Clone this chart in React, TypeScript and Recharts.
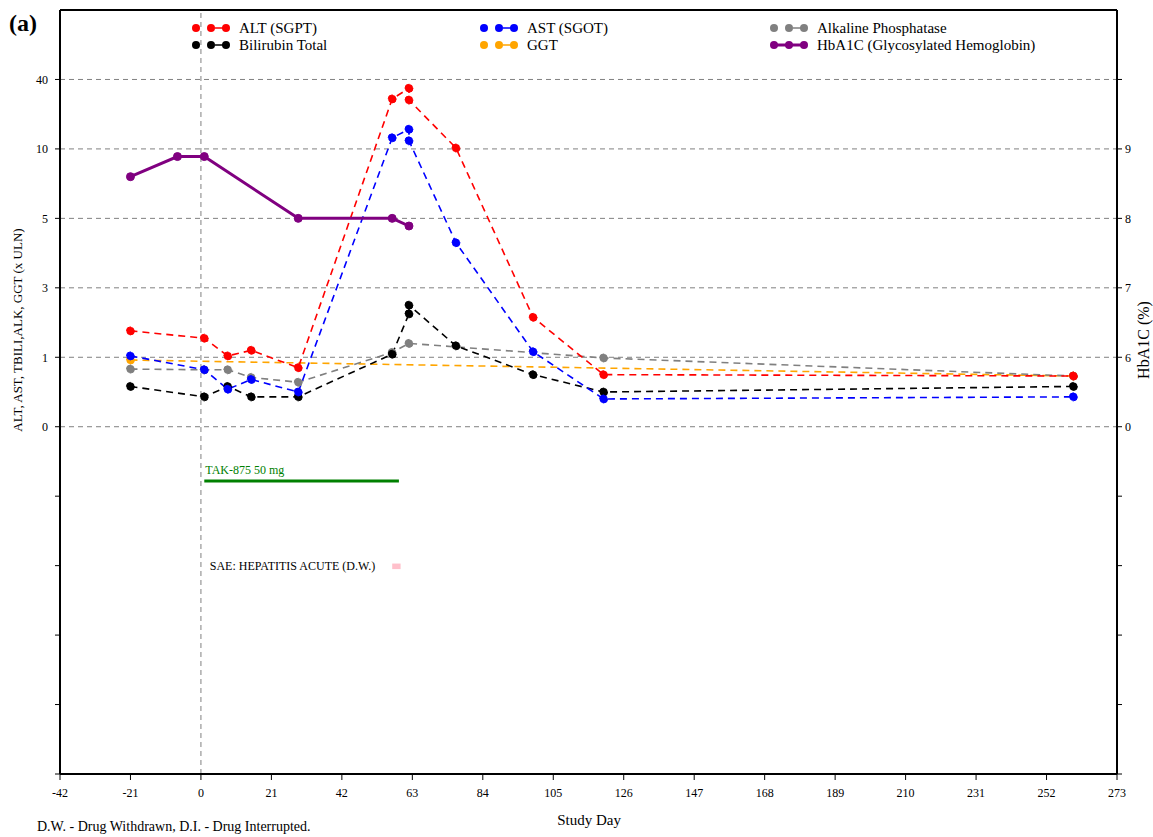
import React from 'react';
import { LineChart, Line, XAxis, YAxis, ReferenceLine, ReferenceArea } from 'recharts';

const FONT = '"Liberation Serif", "Times New Roman", serif';

// ---- axis tick labels ----
const xTicks = [-42, -21, 0, 21, 42, 63, 84, 105, 126, 147, 168, 189, 210, 231, 252, 273];
const leftTickLabels = ['0', '1', '3', '5', '10', '40'];
const leftBreaks = [0, 1, 3, 5, 10, 40];
const rightTickLabels = ['0', '6', '7', '8', '9'];
const rightBreaks = [0, 6, 7, 8, 9];
const yTicks = [-5, -4, -3, -2, -1, 0, 1, 2, 3, 4, 5];

// ---- series (x ULN) ----
const altDays = [-21, 1, 8, 15, 29, 57, 62, 62, 76, 99, 120, 260];
const altVals = [1.76, 1.55, 1.04, 1.2, 0.85, 31.6, 36.2, 31.1, 10.4, 2.15, 0.75, 0.73];

const astDays = [-21, 1, 8, 15, 29, 57, 62, 62, 76, 99, 120, 260];
const astVals = [1.04, 0.82, 0.54, 0.68, 0.5, 14.8, 18.5, 13.5, 4.3, 1.16, 0.4, 0.43];

const alkDays = [-21, 1, 8, 15, 29, 57, 62, 120, 260];
const alkVals = [0.83, 0.82, 0.82, 0.71, 0.64, 1.14, 1.4, 0.99, 0.73];

const tbiliDays = [-21, 1, 8, 15, 29, 57, 62, 62, 76, 99, 120, 260];
const tbiliVals = [0.58, 0.43, 0.58, 0.43, 0.43, 1.09, 2.25, 2.5, 1.33, 0.75, 0.5, 0.58];

const ggtDays = [-21, 260];
const ggtVals = [0.96, 0.73];

// ---- HbA1c (%) ----
const hbaDays = [-21, -7, 1, 29, 57, 62];
const hbaVals = [8.6, 8.89, 8.89, 8.0, 8.0, 7.89];

// ---- annotations ----
const drugName = 'TAK-875 50 mg';
const drugStart = 1;
const drugEnd = 59;
const saeText = 'SAE: HEPATITIS ACUTE (D.W.)';
const saeStart = 57;
const saeEnd = 59.5;

// piecewise axis mapping (the chart's axis is a broken, non-linear scale)
function toPos(v: number, breaks: number[]) {
  for (let i = 0; i < breaks.length - 1; i++) {
    if (v <= breaks[i + 1]) return i + (v - breaks[i]) / (breaks[i + 1] - breaks[i]);
  }
  return breaks.length - 1;
}

const build = (days: number[], vals: number[], breaks: number[]) =>
  days.map((d, i) => ({ day: d, v: toPos(vals[i], breaks) }));

const series = [
  { key: 'alt', name: 'ALT (SGPT)', color: '#ff0000', dashed: true, data: build(altDays, altVals, leftBreaks), axis: 'L' },
  { key: 'ast', name: 'AST (SGOT)', color: '#0000ff', dashed: true, data: build(astDays, astVals, leftBreaks), axis: 'L' },
  { key: 'alk', name: 'Alkaline Phosphatase', color: '#808080', dashed: true, data: build(alkDays, alkVals, leftBreaks), axis: 'L' },
  { key: 'tbili', name: 'Bilirubin Total', color: '#000000', dashed: true, data: build(tbiliDays, tbiliVals, leftBreaks), axis: 'L' },
  { key: 'ggt', name: 'GGT', color: '#ffa500', dashed: true, data: build(ggtDays, ggtVals, leftBreaks), axis: 'L' },
  { key: 'hba', name: 'HbA1C (Glycosylated Hemoglobin)', color: '#800080', dashed: false, data: build(hbaDays, hbaVals, rightBreaks), axis: 'R' },
];

const drawOrder = ['ggt', 'alk', 'tbili', 'ast', 'alt', 'hba'];

const legendLayout: Record<string, { x: number; y: number }> = {
  alt: { x: 196, y: 28 },
  ast: { x: 484, y: 28 },
  alk: { x: 774, y: 28 },
  tbili: { x: 196, y: 45 },
  ggt: { x: 484, y: 45 },
  hba: { x: 774, y: 45 },
};

const W = 1153;
const H = 837;

export default function App() {
  return (
    <div style={{ position: 'absolute', left: 0, top: 0, width: W, height: H, background: '#fff' }}>
      <LineChart width={W} height={H} margin={{ top: 10, right: 6, bottom: 33, left: 20 }}>
        <XAxis
          dataKey="day"
          type="number"
          domain={[-42, 273]}
          ticks={xTicks}
          interval={0}
          allowDuplicatedCategory={false}
          height={30}
          tickSize={6}
          tickMargin={8}
          axisLine={{ stroke: '#000', strokeWidth: 2 }}
          tickLine={{ stroke: '#000' }}
          tick={{ fill: '#000', fontSize: 12, fontFamily: FONT }}
        />
        <YAxis
          yAxisId="L"
          type="number"
          domain={[-5, 6]}
          ticks={yTicks}
          interval={0}
          allowDataOverflow
          width={40}
          tickSize={5}
          tickMargin={7}
          axisLine={{ stroke: '#000', strokeWidth: 2 }}
          tickLine={{ stroke: '#000' }}
          tick={{ fill: '#000', fontSize: 12, fontFamily: FONT }}
          tickFormatter={(v: number) => (v >= 0 ? leftTickLabels[v] ?? '' : '')}
        />
        <YAxis
          yAxisId="R"
          orientation="right"
          type="number"
          domain={[-5, 6]}
          ticks={yTicks}
          interval={0}
          allowDataOverflow
          width={30}
          tickSize={5}
          tickMargin={3}
          axisLine={{ stroke: '#000', strokeWidth: 2 }}
          tickLine={{ stroke: '#000' }}
          tick={{ fill: '#000', fontSize: 12, fontFamily: FONT }}
          tickFormatter={(v: number) => (v >= 0 && v < rightTickLabels.length ? rightTickLabels[v] : '')}
        />

        {leftTickLabels.map((_, i) => (
          <ReferenceLine key={'g' + i} yAxisId="L" y={i} stroke="#808080" strokeDasharray="5 4" strokeWidth={1} />
        ))}
        <ReferenceLine yAxisId="L" x={0} stroke="#808080" strokeDasharray="5 4" strokeWidth={1} />
        <ReferenceLine yAxisId="L" y={6} stroke="#000" strokeWidth={2} />

        <ReferenceLine
          yAxisId="L"
          segment={[{ x: drugStart, y: -0.78 }, { x: drugEnd, y: -0.78 }]}
          stroke="#008000"
          strokeWidth={3}
          label={(props: any) => {
            const vb = props.viewBox || {};
            return (
              <text x={(vb.x ?? 0) + 1} y={(vb.y ?? 0) - 7} fill="#008000" fontSize={12} fontFamily={FONT}>
                {drugName}
              </text>
            );
          }}
        />
        <ReferenceArea
          yAxisId="L"
          x1={saeStart}
          x2={saeEnd}
          y1={-2.05}
          y2={-1.97}
          fill="#ffc0cb"
          fillOpacity={1}
          stroke="none"
          label={(props: any) => {
            const vb = props.viewBox || {};
            return (
              <text
                x={(vb.x ?? 0) - 17}
                y={(vb.y ?? 0) + (vb.height ?? 0) / 2 + 4}
                textAnchor="end"
                fill="#000"
                fontSize={12}
                fontFamily={FONT}
              >
                {saeText}
              </text>
            );
          }}
        />

        {drawOrder.map((k) => {
          const s = series.find((x) => x.key === k)!;
          return (
            <Line
              key={s.key}
              yAxisId={s.axis}
              data={s.data}
              dataKey="v"
              name={s.name}
              type="linear"
              stroke={s.color}
              strokeWidth={s.dashed ? 1.6 : 3}
              strokeDasharray={s.dashed ? '7 5' : undefined}
              dot={{ r: 4, fill: s.color, stroke: s.color, strokeWidth: 1 }}
              activeDot={false}
              isAnimationActive={false}
            />
          );
        })}
      </LineChart>

      <svg
        width={W}
        height={H}
        style={{ position: 'absolute', left: 0, top: 0, pointerEvents: 'none' }}
        fontFamily={FONT}
      >
        <text x={9} y={31} fontSize={24} fontWeight="bold" fill="#000">(a)</text>

        {series.map((s) => {
          const p = legendLayout[s.key];
          return (
            <g key={'lg' + s.key}>
              {s.dashed ? (
                <line x1={p.x + 15} y1={p.y} x2={p.x + 30} y2={p.y} stroke={s.color} strokeWidth={1.6} strokeDasharray="0 4 8 10" />
              ) : (
                <line x1={p.x} y1={p.y} x2={p.x + 30} y2={p.y} stroke={s.color} strokeWidth={3} />
              )}
              <circle cx={p.x} cy={p.y} r={4} fill={s.color} />
              <circle cx={p.x + 15} cy={p.y} r={4} fill={s.color} />
              <circle cx={p.x + 30} cy={p.y} r={4} fill={s.color} />
              <text x={p.x + 43} y={p.y + 5} fontSize={15} fill="#000">{s.name}</text>
            </g>
          );
        })}

        <text
          transform="translate(22,330) rotate(-90)"
          textAnchor="middle"
          fontSize={13}
          fill="#000"
        >
          ALT, AST, TBILI,ALK, GGT (x ULN)
        </text>
        <text
          transform="translate(1149,340) rotate(-90)"
          textAnchor="middle"
          fontSize={16}
          fill="#000"
        >
          HbA1C (%)
        </text>
        <text x={589} y={825} textAnchor="middle" fontSize={15} fill="#000">Study Day</text>
        <text x={37} y={831} fontSize={14} fill="#000">D.W. - Drug Withdrawn, D.I. - Drug Interrupted.</text>
      </svg>
    </div>
  );
}
